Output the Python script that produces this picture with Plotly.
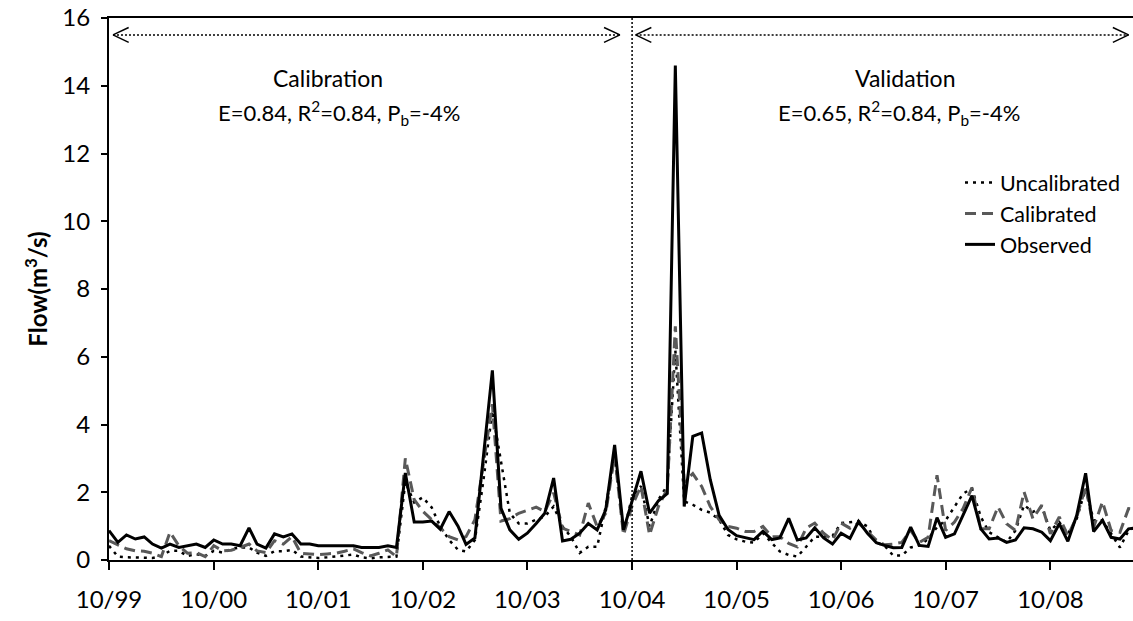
import numpy as np
import pandas as pd
import plotly.graph_objects as go

# ---------------- data (monthly, starting Oct 1999) ----------------
start_month = "1999-10-01"

observed = [0.87, 0.52, 0.74, 0.62, 0.68, 0.47, 0.35, 0.47, 0.37, 0.42,
            0.47, 0.37, 0.59, 0.47, 0.47, 0.42, 0.95, 0.47, 0.35, 0.77,
            0.68, 0.77, 0.47, 0.47, 0.42, 0.42, 0.42, 0.42, 0.42, 0.37,
            0.37, 0.37, 0.42, 0.37, 2.57, 1.12, 1.12, 1.15, 0.91, 1.43,
            1.00, 0.46, 0.65, 3.00, 5.60, 1.53, 0.89, 0.61, 0.79, 1.08,
            1.38, 2.42, 0.56, 0.61, 0.79, 1.08, 0.89, 1.48, 3.40, 0.89,
            1.75, 2.62, 1.38, 1.75, 1.96, 14.60, 1.58, 3.65, 3.75, 2.37,
            1.32, 0.90, 0.72, 0.65, 0.60, 0.85, 0.60, 0.65, 1.23, 0.59,
            0.65, 0.95, 0.65, 0.47, 0.79, 0.64, 1.14, 0.79, 0.51, 0.43,
            0.36, 0.37, 0.97, 0.43, 0.40, 1.25, 0.67, 0.77, 1.31, 1.90,
            0.92, 0.62, 0.65, 0.52, 0.59, 0.95, 0.92, 0.82, 0.57, 1.07,
            0.55, 1.32, 2.56, 0.84, 1.17, 0.67, 0.62, 0.92, 0.95]

calibrated = [0.57, 0.45, 0.33, 0.27, 0.26, 0.20, 0.10, 0.82, 0.42, 0.20,
              0.22, 0.10, 0.42, 0.27, 0.29, 0.37, 0.47, 0.27, 0.22, 0.57,
              0.47, 0.69, 0.20, 0.18, 0.16, 0.18, 0.20, 0.26, 0.33, 0.22,
              0.12, 0.20, 0.30, 0.10, 3.00, 1.78, 1.44, 1.19, 0.94, 0.69,
              0.59, 0.69, 1.19, 2.87, 4.60, 1.15, 1.22, 1.38, 1.48, 1.56,
              1.43, 1.98, 0.94, 0.84, 0.74, 1.68, 0.99, 1.38, 3.10, 0.74,
              1.60, 2.18, 0.74, 1.58, 2.10, 6.90, 2.30, 2.55, 2.17, 1.58,
              1.19, 0.99, 0.94, 0.84, 0.84, 0.99, 0.69, 0.69, 0.49, 0.39,
              0.94, 1.09, 0.79, 0.59, 1.09, 0.94, 1.09, 0.84, 0.59, 0.45,
              0.47, 0.52, 0.87, 0.52, 0.67, 2.50, 0.87, 1.12, 1.52, 2.14,
              0.92, 0.92, 1.57, 1.07, 0.87, 2.01, 1.22, 1.62, 0.77, 1.27,
              0.72, 1.27, 2.16, 0.97, 1.72, 0.87, 0.82, 1.52, 1.50]

uncalibrated = [0.42, 0.10, 0.08, 0.08, 0.06, 0.06, 0.12, 0.27, 0.27, 0.12,
                0.17, 0.12, 0.27, 0.22, 0.32, 0.37, 0.37, 0.22, 0.12, 0.26,
                0.26, 0.30, 0.10, 0.08, 0.06, 0.08, 0.10, 0.12, 0.16, 0.08,
                0.05, 0.08, 0.10, 0.10, 2.30, 1.70, 1.85, 1.55, 0.99, 0.59,
                0.30, 0.25, 0.59, 2.37, 4.40, 2.87, 1.38, 1.08, 1.08, 1.19,
                1.28, 1.58, 0.99, 0.69, 0.21, 0.39, 0.39, 1.58, 3.07, 0.79,
                1.88, 2.18, 0.99, 1.78, 2.20, 6.20, 1.73, 1.63, 1.48, 1.40,
                1.19, 0.74, 0.61, 0.54, 0.51, 0.79, 0.49, 0.25, 0.15, 0.10,
                0.39, 0.69, 0.69, 0.71, 1.09, 1.11, 1.14, 0.99, 0.51, 0.43,
                0.13, 0.13, 0.37, 0.43, 0.62, 0.97, 1.17, 1.57, 1.96, 2.11,
                1.27, 0.82, 0.67, 0.52, 0.87, 1.62, 1.42, 1.57, 0.87, 1.12,
                0.77, 1.22, 2.11, 1.17, 1.17, 0.77, 0.37, 0.87, 1.00]

tick_labels = ["10/99", "10/00", "10/01", "10/02", "10/03",
               "10/04", "10/05", "10/06", "10/07", "10/08"]

validation_start = "2004-10-01"   # split between calibration and validation
x_end_months = 117.5              # visible window, months after start

dates = pd.date_range(start_month, periods=len(observed), freq="MS")
tick_dates = pd.date_range(start_month, periods=len(tick_labels), freq="12MS")


def month_pos(m):
    base = pd.Timestamp(start_month)
    whole = int(np.floor(m))
    frac = m - whole
    d0 = base + pd.DateOffset(months=whole)
    d1 = base + pd.DateOffset(months=whole + 1)
    return (d0 + (d1 - d0) * frac).strftime("%Y-%m-%d %H:%M:%S")


fig = go.Figure()
fig.add_trace(go.Scatter(x=dates, y=uncalibrated, mode="lines", name="Uncalibrated",
                         line=dict(color="black", width=2.5, dash="3px,5px")))
fig.add_trace(go.Scatter(x=dates, y=calibrated, mode="lines", name="Calibrated",
                         line=dict(color="#595959", width=3, dash="11px,6px")))
fig.add_trace(go.Scatter(x=dates, y=observed, mode="lines", name="Observed",
                         line=dict(color="black", width=3)))

shapes = []
# vertical split line
shapes.append(dict(type="line", xref="x", yref="y", x0=validation_start, x1=validation_start,
                   y0=0, y1=16.1, line=dict(color="black", width=1.5, dash="2px,2px")))

arrow_y = 15.5
head_len = 1.8
head_h = 0.22
for a, b in [(0.45, 58.6), (60.4, 117.0)]:
    shapes.append(dict(type="line", xref="x", yref="y", x0=month_pos(a), x1=month_pos(b),
                       y0=arrow_y, y1=arrow_y, line=dict(color="black", width=1.5, dash="2px,2px")))
    for tip, sgn in [(a, 1), (b, -1)]:
        for dy in (head_h, -head_h):
            shapes.append(dict(type="line", xref="x", yref="y",
                               x0=month_pos(tip), x1=month_pos(tip + sgn * head_len),
                               y0=arrow_y, y1=arrow_y + dy,
                               line=dict(color="black", width=1.5)))


def px_x(p):
    return (p - 109) / 1024.0


def px_y(p):
    return (560 - p) / 542.0


title_font = dict(family="Lato", size=23, color="black")
ann_font = dict(family="Lato", size=22, color="black")
annotations = [
    dict(text="Calibration", x=px_x(328), y=px_y(78), font=title_font),
    dict(text="E=0.84, R<sup>2</sup>=0.84, P<sub>b</sub>=-4%", x=px_x(339), y=px_y(113),
         font=ann_font),
    dict(text="Validation", x=px_x(905), y=px_y(78), font=title_font),
    dict(text="E=0.65, R<sup>2</sup>=0.84, P<sub>b</sub>=-4%", x=px_x(899), y=px_y(113),
         font=ann_font),
]
for a in annotations:
    a.update(xref="paper", yref="paper", showarrow=False, xanchor="center", yanchor="middle")

fig.update_layout(
    width=1133, height=621,
    margin=dict(l=109, r=0, t=18, b=61),
    plot_bgcolor="white", paper_bgcolor="white",
    font=dict(family="Lato", color="black", size=22),
    shapes=shapes, annotations=annotations,
    showlegend=True,
    legend=dict(x=px_x(960), y=px_y(162), xanchor="left", yanchor="top",
                font=dict(size=21.5), bgcolor="rgba(0,0,0,0)", tracegroupgap=0),
    xaxis=dict(type="date", range=[start_month, month_pos(x_end_months)],
               tickvals=tick_dates, ticktext=tick_labels,
               showgrid=False, zeroline=False,
               showline=True, linecolor="black", linewidth=2, mirror=True,
               ticks="outside", ticklen=8, tickwidth=1.5, tickcolor="black",
               tickfont=dict(size=24), ticklabelstandoff=9),
    yaxis=dict(range=[0, 16], dtick=2, showgrid=False, zeroline=False,
               showline=True, linecolor="black", linewidth=2,
               ticks="outside", ticklen=6, tickwidth=1.5, tickcolor="black",
               tickfont=dict(size=24), ticklabelstandoff=6,
               title=dict(text="<b>Flow(m<sup>3</sup>/s)</b>", font=dict(size=24), standoff=8)),
)

fig.write_html("out.html", config={"displayModeBar": False},
               post_script="document.body.style.margin='0';")
